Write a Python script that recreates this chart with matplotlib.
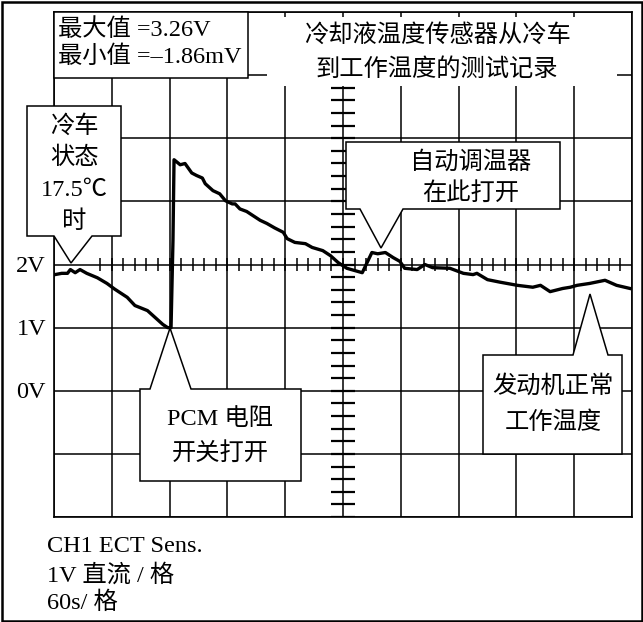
import matplotlib
matplotlib.use("Agg")
import matplotlib.pyplot as plt
from matplotlib.patches import Polygon, Rectangle

plt.rcParams['font.family'] = ['Liberation Serif', 'Noto Sans CJK SC']

# ECT sensor trace: seconds / volts
t = [1, 8, 14, 17, 22, 27, 34, 45, 55, 63,
     76, 84, 97, 105, 113, 118, 121.5, 123.5, 124.6, 131,
     136, 143, 148, 154, 157, 165, 172, 178, 185, 188,
     193, 200, 207, 214, 221, 229, 238, 242, 250, 261,
     268, 279, 287, 295, 304, 320, 330, 336, 344, 352,
     359, 364, 377, 385, 393, 411, 425, 435, 439, 450,
     463, 481, 497, 505, 515, 528, 536, 543, 556, 572,
     584, 598]
v = [1.84, 1.86, 1.86, 1.92, 1.87, 1.92, 1.86, 1.79, 1.70, 1.61,
     1.48, 1.35, 1.27, 1.16, 1.05, 1.00, 1.00, 2.38, 3.66, 3.58,
     3.60, 3.45, 3.41, 3.37, 3.28, 3.17, 3.12, 3.01, 2.96, 2.96,
     2.88, 2.84, 2.77, 2.70, 2.65, 2.58, 2.51, 2.41, 2.35, 2.33,
     2.27, 2.22, 2.14, 2.03, 1.94, 1.87, 2.19, 2.17, 2.19, 2.11,
     2.05, 1.94, 1.92, 2.00, 1.95, 1.94, 1.86, 1.84, 1.86, 1.76,
     1.72, 1.67, 1.64, 1.67, 1.57, 1.62, 1.64, 1.67, 1.70, 1.75,
     1.67, 1.62]

volt_labels = ['2V', '1V', '0V']
volt_levels = [2, 1, 0]
title_lines = ['冷却液温度传感器从冷车', '到工作温度的测试记录']
minmax_lines = ['最大值 =3.26V', '最小值 =–1.86mV']
footer_lines = ['CH1 ECT Sens.', '1V 直流 / 格', '60s/ 格']

W, H = 643, 622
fig = plt.figure(figsize=(W / 100, H / 100), dpi=100)

# scope screen: 10 x 60 s, 8 x 1 V, centre line at 2 V
gx0, gx1, gy0, gy1 = 54, 632, 12, 517
ax = fig.add_axes([gx0 / W, 1 - gy1 / H, (gx1 - gx0) / W, (gy1 - gy0) / H])
ax.set_xlim(0, 600)
ax.set_ylim(-2, 6)
ax.set_xticks(range(0, 601, 60))
ax.set_yticks(range(-2, 7))
ax.grid(True, color='black', lw=1.1)
ax.tick_params(length=0, labelbottom=False, labelleft=False)
for s in ax.spines.values():
    s.set_linewidth(1.2)

# centre graticule ticks
ax.vlines([48 + 12 * i for i in range(46)], 1.89, 2.11, color='black', lw=1.1)
ax.hlines([-2 + 0.2 * i for i in range(40)], 287.5, 312.5, color='black', lw=1.6)

ax.plot(t, v, color='black', lw=2.4, zorder=5)

# overlay in pixel coordinates for boxes and text
ov = fig.add_axes([0, 0, 1, 1])
ov.set_xlim(0, W)
ov.set_ylim(H, 0)
ov.axis('off')

ov.add_patch(Rectangle((1.5, 1.5), W - 3, H - 3, fill=False, ec='black', lw=1.8))

fs = 17.5
ov.add_patch(Rectangle((54, 12), 194, 66, fc='white', ec='black', lw=1.1))
for i, s in enumerate(minmax_lines):
    ov.text(58, 30 + 27 * i, s, fontsize=fs, ha='left', va='center')

ov.add_patch(Rectangle((267, 17), 350, 69, fc='white', ec='none'))
for i, s in enumerate(title_lines):
    ov.text(437, 35 + 34 * i, s, fontsize=fs, ha='center', va='center')


def callout(pts, lines, cx, ys):
    ov.add_patch(Polygon(pts, closed=True, fc='white', ec='black', lw=1.1))
    for s, y in zip(lines, ys):
        ov.text(cx, y, s, fontsize=fs, ha='center', va='center')


callout([(27, 106), (121, 106), (121, 236), (92, 236), (71, 263), (54, 236), (27, 236)],
        ['冷车', '状态', '17.5℃', '时'], 74, [126, 158, 190, 222])
callout([(140, 389), (150, 389), (170, 328), (191, 389), (301, 389), (301, 481), (140, 481)],
        ['PCM 电阻', '开关打开'], 220, [419, 453])
callout([(346, 142), (560, 142), (560, 209), (403, 209), (381, 248), (360, 209), (346, 209)],
        ['自动调温器', '在此打开'], 471, [162, 193])
callout([(483, 355), (573, 355), (590, 294), (608, 355), (622, 355), (622, 454), (483, 454)],
        ['发动机正常', '工作温度'], 553, [386, 423])

for s, lvl in zip(volt_labels, volt_levels):
    ov.text(46, 264 - 63.1 * (lvl - 2) + 2, s, fontsize=fs, ha='right', va='center')

for i, s in enumerate(footer_lines):
    ov.text(47, 547 + 28 * i, s, fontsize=fs, ha='left', va='center')

fig.savefig('out.png', dpi=100, facecolor='white')
